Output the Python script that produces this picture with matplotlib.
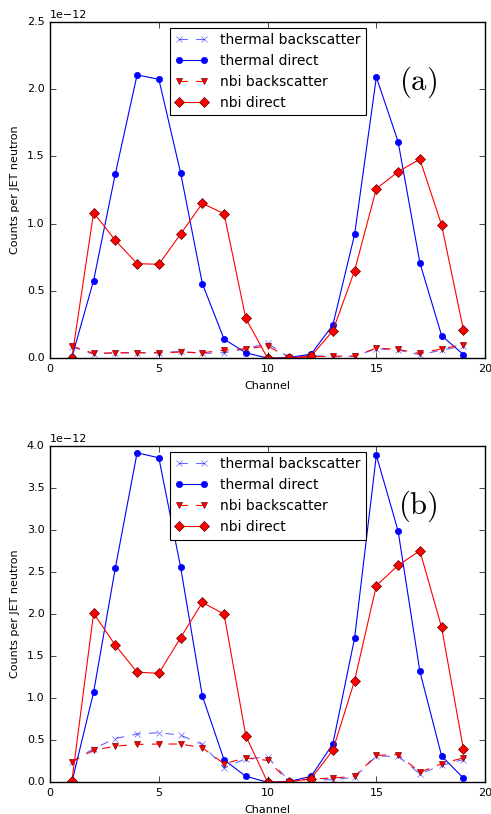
import matplotlib
matplotlib.use('Agg')
import matplotlib.pyplot as plt
import numpy as np

plt.style.use('classic')
plt.rcParams['mathtext.fontset'] = 'cm'

channels = np.arange(1, 20)
scale = 1e-12

# panel (a)
a_thermal_back = [0.085, 0.03, 0.04, 0.04, 0.04, 0.05, 0.035, 0.04, 0.07, 0.11,
                  0.005, 0.02, 0.01, 0.015, 0.07, 0.06, 0.025, 0.06, 0.09]
a_thermal_direct = [0.005, 0.577, 1.371, 2.106, 2.074, 1.379, 0.554, 0.141, 0.04, 0.0,
                    0.005, 0.03, 0.247, 0.92, 2.09, 1.61, 0.71, 0.168, 0.027]
a_nbi_back = [0.09, 0.035, 0.04, 0.04, 0.04, 0.045, 0.04, 0.06, 0.07, 0.09,
              0.003, 0.01, 0.015, 0.015, 0.075, 0.065, 0.035, 0.07, 0.1]
a_nbi_direct = [0.0, 1.082, 0.876, 0.703, 0.698, 0.923, 1.151, 1.074, 0.295, 0.0,
                0.0, 0.015, 0.203, 0.651, 1.26, 1.386, 1.48, 0.99, 0.213]

# panel (b)
b_thermal_back = [0.246, 0.40, 0.52, 0.575, 0.59, 0.56, 0.45, 0.17, 0.28, 0.30,
                  0.01, 0.03, 0.03, 0.06, 0.31, 0.31, 0.10, 0.20, 0.27]
b_thermal_direct = [0.0, 1.07, 2.55, 3.92, 3.86, 2.56, 1.027, 0.266, 0.071, 0.0,
                    0.01, 0.07, 0.456, 1.716, 3.89, 2.99, 1.32, 0.313, 0.05]
b_nbi_back = [0.245, 0.38, 0.43, 0.45, 0.455, 0.455, 0.41, 0.22, 0.29, 0.26,
              0.005, 0.04, 0.05, 0.07, 0.32, 0.33, 0.12, 0.22, 0.29]
b_nbi_direct = [0.01, 2.01, 1.63, 1.31, 1.296, 1.72, 2.14, 2.0, 0.551, 0.0,
                0.005, 0.044, 0.38, 1.21, 2.34, 2.58, 2.755, 1.843, 0.396]

fig = plt.figure(figsize=(4.91, 8.14), dpi=100, facecolor='white')
ax1 = fig.add_axes([0.102, 0.560, 0.886, 0.413])
ax2 = fig.add_axes([0.102, 0.039, 0.886, 0.413])


def draw(ax, tb, td, nb, nd, ymax, label):
    ax.plot(channels, np.array(tb) * scale, 'x--', color='blue', mec='blue',
            ms=5, lw=0.8, label='thermal backscatter', alpha=0.6)
    ax.plot(channels, np.array(td) * scale, 'o-', color='blue', mec='blue',
            ms=4.5, lw=0.8, label='thermal direct')
    ax.plot(channels, np.array(nb) * scale, 'v--', color='red', mec='#800000',
            ms=4.5, mew=0.5, lw=0.8, label='nbi backscatter')
    ax.plot(channels, np.array(nd) * scale, 'D-', color='red', mec='#600000',
            ms=5, mew=0.5, lw=0.8, label='nbi direct')
    ax.set_xlim(0, 20)
    ax.set_ylim(0, ymax * scale)
    ax.set_xlabel('Channel', fontsize=8)
    ax.set_ylabel('Counts per JET neutron', fontsize=8)
    ax.tick_params(labelsize=8)
    ax.yaxis.get_offset_text().set_fontsize(8)
    leg = ax.legend(loc='upper center', fontsize=10, numpoints=2, handlelength=2.4,
                    borderaxespad=0.4)
    leg.get_frame().set_linewidth(0.8)
    ax.text(0.845, 0.82, label, transform=ax.transAxes, fontsize=22,
            ha='center', va='center')


draw(ax1, a_thermal_back, a_thermal_direct, a_nbi_back, a_nbi_direct, 2.5, r'$\mathrm{(a)}$')
draw(ax2, b_thermal_back, b_thermal_direct, b_nbi_back, b_nbi_direct, 4.0, r'$\mathrm{(b)}$')
ax1.set_yticks(np.arange(0, 2.51, 0.5) * scale)
ax2.set_yticks(np.arange(0, 4.01, 0.5) * scale)

fig.savefig('out.png', dpi=100, facecolor='white')
